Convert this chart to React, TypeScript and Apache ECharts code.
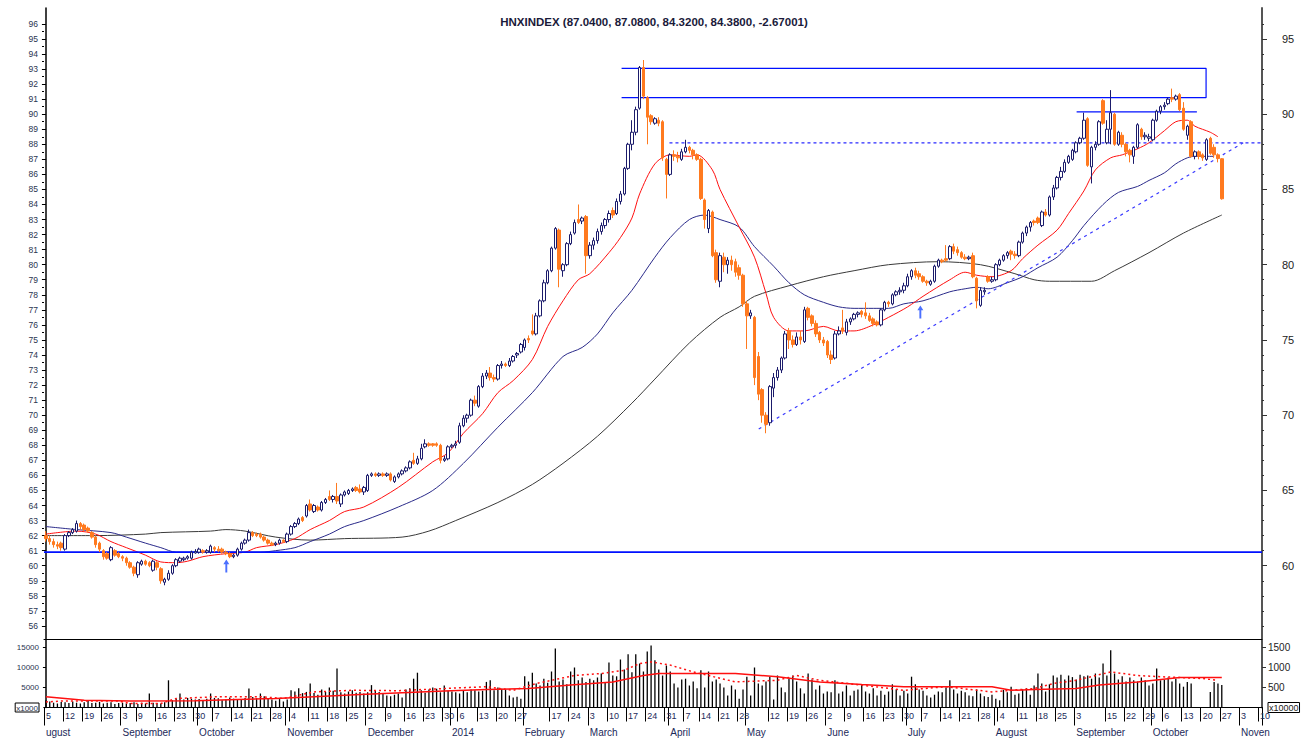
import React, { useEffect, useRef } from "react";
import * as echarts from "echarts";

// ---------- calendar ----------
const START_DAY = "2013-08-05";
const END_DAY = "2014-11-10";
const HOLIDAYS = [
  "2013-09-02", "2014-01-01", "2014-01-29", "2014-01-30", "2014-01-31",
  "2014-02-03", "2014-02-04", "2014-02-05", "2014-04-09", "2014-04-30",
  "2014-05-01", "2014-09-01", "2014-09-02",
];

function buildTradingDays(start: string, end: string): string[] {
  const hs = new Set(HOLIDAYS);
  const out: string[] = [];
  let d = new Date(start + "T00:00:00Z");
  const e = new Date(end + "T00:00:00Z");
  while (d <= e) {
    const wd = d.getUTCDay();
    const s = d.toISOString().slice(0, 10);
    if (wd !== 0 && wd !== 6 && !hs.has(s)) out.push(s);
    d = new Date(d.getTime() + 86400000);
  }
  return out;
}

// ---------- tick labels ----------
const WEEK_LABEL_DAYS = [
  "2013-08-05", "2013-08-12", "2013-08-19", "2013-08-26", "2013-09-03", "2013-09-09",
  "2013-09-16", "2013-09-23", "2013-09-30", "2013-10-07", "2013-10-14", "2013-10-21",
  "2013-10-28", "2013-11-04", "2013-11-11", "2013-11-18", "2013-11-25", "2013-12-02",
  "2013-12-09", "2013-12-16", "2013-12-23", "2013-12-30", "2014-01-06", "2014-01-13",
  "2014-01-20", "2014-01-27", "2014-02-17", "2014-02-24", "2014-03-03", "2014-03-10",
  "2014-03-17", "2014-03-24", "2014-03-31", "2014-04-07", "2014-04-14", "2014-04-21",
  "2014-04-28", "2014-05-12", "2014-05-19", "2014-05-26", "2014-06-02", "2014-06-09",
  "2014-06-16", "2014-06-23", "2014-06-30", "2014-07-07", "2014-07-14", "2014-07-21",
  "2014-07-28", "2014-08-04", "2014-08-11", "2014-08-18", "2014-08-25", "2014-09-03",
  "2014-09-15", "2014-09-22", "2014-09-29", "2014-10-06", "2014-10-13", "2014-10-20",
  "2014-10-27", "2014-11-03", "2014-11-10",
];
const MONTH_START_DAYS = [
  "2013-08-05", "2013-09-03", "2013-10-01", "2013-11-01", "2013-12-02", "2014-01-02",
  "2014-02-06", "2014-03-03", "2014-04-01", "2014-05-02", "2014-06-02", "2014-07-01",
  "2014-08-01", "2014-09-03", "2014-10-01", "2014-11-03",
];
const MONTH_NAMES = [
  "ugust", "September", "October", "November", "December", "2014",
  "February", "March", "April", "May", "June", "July",
  "August", "September", "October", "Noven",
];
const LEFT_PRICE_TICKS = [56,57,58,59,60,61,62,63,64,65,66,67,68,69,70,71,72,73,74,75,76,77,78,79,80,81,82,83,84,85,86,87,88,89,90,91,92,93,94,95,96];
const RIGHT_PRICE_TICKS = [60, 65, 70, 75, 80, 85, 90, 95];
const VOL_TICKS = [0, 5000, 10000, 15000];

// ---------- daily OHLC: [open, close, low, high] ----------
const ohlcAug13 = [
  [62.0,61.8,61.6,62.3],[61.8,61.6,61.4,62.0],[61.6,61.4,61.2,61.8],[61.4,61.3,61.1,61.6],[61.5,61.2,61.0,61.6],
  [61.1,62.0,61.0,62.1],[62.0,62.2,61.9,62.3],[62.2,62.4,62.1,62.5],[62.3,62.8,62.2,63.0],[62.8,62.6,62.4,62.9],
  [62.7,62.4,62.3,62.8],[62.5,62.3,62.2,62.6],[62.2,61.9,61.8,62.3],[61.9,61.4,61.2,62.0],[61.5,61.1,60.9,61.6],
  [61.0,60.6,60.4,61.1],[60.8,60.5,60.4,60.9],[60.4,61.2,60.3,61.3],[61.0,60.7,60.6,61.1],[60.8,60.6,60.5,60.9],
];
const ohlcSep13 = [
  [60.6,60.5,60.3,60.7],[60.5,60.2,60.0,60.6],[60.2,59.9,59.8,60.3],[59.9,59.5,59.3,60.0],[59.4,60.2,59.2,60.3],
  [60.1,60.3,60.0,60.4],[60.3,60.1,60.0,60.4],[60.2,60.0,59.9,60.3],[59.7,60.3,59.6,60.4],[60.2,59.9,59.7,60.3],
  [59.8,59.0,58.8,59.9],[58.9,59.1,58.7,59.2],[59.1,59.5,59.0,59.7],[59.5,60.0,59.4,60.1],[60.0,60.4,59.9,60.5],
  [60.3,60.5,60.2,60.6],[60.4,60.5,60.3,60.6],[60.5,60.6,60.4,60.7],[60.5,60.9,60.4,61.0],[60.85,60.95,60.8,61.1],
];
const ohlcOct13 = [
  [60.9,61.1,60.8,61.2],[61.0,60.9,60.8,61.1],[60.9,61.0,60.8,61.1],[60.9,61.3,60.8,61.4],[61.2,61.1,60.9,61.3],
  [61.1,61.0,60.9,61.3],[61.1,60.9,60.8,61.2],[60.9,60.8,60.7,61.0],[60.8,60.6,60.5,60.9],[60.6,60.7,60.5,60.8],
  [60.7,61.1,60.6,61.2],[61.1,61.5,61.0,61.6],[61.5,61.7,61.4,61.8],[61.7,62.2,61.6,62.4],[62.2,62.0,61.9,62.3],
  [62.1,62.0,61.9,62.2],[62.1,61.9,61.8,62.2],[61.9,61.7,61.6,62.0],[61.7,61.5,61.4,61.8],[61.5,61.4,61.3,61.6],
  [61.4,61.5,61.3,61.6],[61.5,61.7,61.4,61.8],[61.7,61.6,61.5,61.75],
];
const ohlcNov13 = [
  [61.6,62.1,61.5,62.2],[62.1,62.6,62.0,62.7],[62.6,62.8,62.5,62.9],[62.8,63.1,62.7,63.2],[63.2,63.0,62.9,63.3],
  [63.3,64.0,63.2,64.1],[64.1,63.7,63.6,64.4],[63.6,64.0,63.5,64.1],[63.9,63.7,63.6,64.0],[63.7,64.2,63.6,64.3],
  [64.2,64.4,64.1,64.5],[64.6,64.4,64.3,65.0],[64.4,64.6,64.2,64.7],[64.6,64.3,64.1,65.5],[64.1,64.7,63.9,64.8],
  [64.7,64.9,64.6,65.0],[64.8,65.0,64.7,65.1],[65.0,65.1,64.9,65.2],[65.2,65.0,64.9,65.3],[65.1,64.9,64.8,65.4],
  [64.9,65.2,64.7,65.3],
];
const ohlcDec13 = [
  [65.0,66.0,64.9,66.1],[66.0,66.1,65.9,66.2],[66.1,66.0,65.9,66.2],[66.0,66.1,65.9,66.2],[66.1,66.0,65.9,66.2],
  [66.0,66.1,65.9,66.2],[66.1,65.7,65.6,66.2],[65.6,65.9,65.5,66.0],[65.9,66.1,65.8,66.2],[66.1,66.3,66.0,66.4],
  [66.3,66.5,66.2,66.6],[66.5,66.9,66.4,67.0],[67.0,66.8,66.7,67.5],[66.8,67.1,66.7,67.3],[67.1,67.8,67.0,68.1],
  [67.9,68.1,67.8,68.4],[68.1,68.0,67.9,68.2],[68.1,68.0,67.9,68.15],[68.1,68.0,67.9,68.2],[68.0,67.0,66.8,68.1],
  [67.0,67.1,66.9,67.3],[67.1,67.9,67.0,68.0],
];
const ohlcJan14 = [
  [67.9,68.0,67.8,68.1],[68.0,68.1,67.8,68.3],[68.2,69.3,68.1,69.5],[69.3,69.8,69.2,70.0],[69.8,70.0,69.5,70.1],
  [70.0,71.0,69.9,71.1],[71.0,70.8,70.6,71.3],[70.6,71.9,70.5,72.0],[71.9,72.6,71.8,72.8],[72.6,72.8,72.4,73.0],
  [72.8,72.5,72.3,73.2],[72.5,72.4,72.2,72.7],[72.4,73.3,72.3,73.4],[73.3,73.4,73.1,73.6],[73.4,73.3,73.2,73.5],
  [73.3,73.6,73.2,73.8],[73.6,73.9,73.5,74.0],[74.0,74.1,73.8,74.2],[74.2,74.7,74.1,74.8],
];
const ohlcFeb14 = [
  [74.5,75.0,74.3,75.1],[75.1,75.0,74.8,75.3],[75.6,75.4,75.3,76.7],[75.4,76.6,75.3,76.8],[76.6,77.6,76.5,77.7],
  [77.6,78.8,77.5,79.0],[78.8,79.6,78.7,79.7],[79.6,81.1,79.5,81.2],[81.1,82.4,81.0,82.5],[82.3,79.7,78.5,82.4],
  [79.6,80.0,79.2,80.1],[80.0,81.4,79.9,81.5],[81.4,82.0,81.3,82.2],[82.1,82.8,82.0,83.0],[83.0,82.8,82.7,84.0],
  [82.9,83.1,82.7,83.2],[83.2,80.6,79.4,83.3],
];
const ohlcMar14 = [
  [80.6,81.3,80.4,81.5],[81.3,81.6,81.0,81.8],[81.6,82.2,81.4,82.4],[82.2,82.6,82.0,82.8],[82.6,83.0,82.4,83.1],
  [83.0,83.4,82.8,83.6],[83.6,83.3,83.1,83.8],[83.4,84.2,83.3,84.4],[84.2,84.7,84.0,84.9],[84.7,86.4,84.6,86.5],
  [86.4,88.0,86.3,88.1],[88.0,88.8,87.6,89.6],[88.8,90.3,88.6,90.5],[90.4,93.1,90.3,93.2],[93.1,91.2,91.0,93.6],
  [91.1,89.8,88.0,91.2],[89.9,89.5,89.3,90.0],[89.4,89.7,89.3,89.8],[89.6,89.4,89.2,89.8],[89.5,87.1,86.9,89.6],
  [87.0,86.0,84.4,87.1],
];
const ohlcApr14 = [
  [86.0,87.3,85.9,87.4],[87.3,87.2,86.9,87.6],[87.2,87.1,86.8,87.5],[87.0,87.5,86.9,87.7],[87.5,87.8,87.4,88.3],
  [87.8,87.6,87.4,87.9],[87.6,87.3,87.0,87.7],[87.3,87.0,86.9,87.4],[87.0,84.4,84.3,87.1],[84.3,83.0,82.4,84.4],
  [82.4,83.6,82.1,83.7],[83.5,80.6,80.5,83.6],[80.8,79.0,78.8,81.0],[78.9,80.6,78.5,80.8],[80.5,80.0,79.5,80.8],
  [80.0,80.3,79.4,80.5],[80.3,80.0,79.6,80.6],[80.2,79.5,79.2,80.4],[79.8,79.3,79.0,80.0],[79.3,77.4,77.2,79.4],
];
const ohlcMay14 = [
  [77.4,76.6,74.4,77.6],[76.6,76.8,76.4,77.0],[76.5,72.5,72.0,76.6],[73.9,71.4,71.0,74.2],[71.7,70.0,69.5,71.8],
  [70.0,69.4,68.8,70.2],[69.5,71.9,69.3,72.0],[71.8,72.5,71.2,72.8],[72.5,73.0,72.3,73.2],[73.0,73.8,72.8,73.9],
  [73.8,75.4,73.7,75.6],[75.6,75.0,74.4,75.8],[75.0,74.7,74.5,75.3],[74.7,75.2,74.6,75.5],[75.2,75.0,74.7,75.6],
  [74.9,77.0,74.8,77.2],[77.1,76.5,76.3,77.2],[76.6,76.1,75.9,76.7],[76.1,75.4,75.2,76.3],[75.5,75.0,74.8,75.6],
  [75.0,74.8,74.6,75.2],
];
const ohlcJun14 = [
  [74.9,74.0,73.8,75.0],[74.0,73.7,73.4,74.3],[73.8,75.4,73.7,75.6],[75.4,75.6,75.3,75.9],[75.8,75.6,75.4,77.0],
  [75.5,76.2,75.3,76.4],[76.2,76.4,76.0,76.5],[76.4,76.7,76.3,76.8],[76.7,76.8,76.5,76.9],[76.9,76.7,76.5,77.0],
  [76.8,76.6,76.4,77.5],[76.6,76.3,76.2,76.8],[76.4,76.1,75.9,76.5],[76.2,76.0,75.9,76.3],[76.0,77.0,75.9,77.1],
  [77.0,77.5,76.9,77.6],[77.5,77.4,77.2,77.6],[77.4,78.0,77.3,78.1],[78.0,78.2,77.9,78.3],[78.2,78.3,78.0,78.5],
  [78.3,78.6,78.1,78.8],
];
const ohlcJul14 = [
  [78.6,79.2,78.5,79.4],[79.2,79.6,79.0,79.7],[79.6,79.3,79.1,79.8],[79.4,79.2,79.0,79.6],[79.2,78.9,78.8,79.3],
  [78.9,78.8,78.6,79.0],[78.7,78.9,78.6,79.0],[78.9,79.9,78.8,80.0],[79.9,80.3,79.8,80.4],[80.3,80.2,80.1,80.4],
  [80.4,80.3,80.2,81.3],[80.4,81.2,80.3,81.3],[81.2,80.9,80.7,81.4],[81.0,80.8,80.6,81.2],[80.8,80.5,80.4,80.9],
  [80.5,80.4,80.3,80.7],[80.4,80.5,80.3,80.6],[80.6,79.2,79.1,80.8],[79.1,77.6,77.1,79.2],[77.3,78.3,77.2,78.5],
  [78.2,78.3,78.0,78.5],[79.2,78.9,78.8,79.3],[78.9,79.0,78.8,79.2],
];
const ohlcAug14 = [
  [79.0,80.0,78.9,80.1],[80.0,80.3,79.9,80.4],[80.3,80.6,80.2,80.7],[80.6,80.8,80.4,80.9],[80.9,80.7,80.3,81.0],
  [80.7,80.6,80.4,80.9],[80.6,81.5,80.5,81.6],[81.5,82.1,81.4,82.2],[82.1,82.5,81.9,82.6],[82.5,82.8,82.2,82.9],
  [82.9,82.8,82.6,83.0],[83.1,82.8,82.7,83.2],[82.6,83.5,82.5,83.6],[83.5,83.3,83.2,83.7],[83.3,84.5,83.2,84.6],
  [84.5,85.1,84.3,85.3],[85.1,85.8,85.0,85.9],[85.8,86.2,85.6,86.5],[86.2,86.8,86.1,87.0],[86.8,87.2,86.7,87.3],
  [87.0,87.6,86.9,87.7],
];
const ohlcSep14 = [
  [87.5,88.1,87.4,88.2],[88.1,88.4,88.0,88.5],[88.4,89.6,88.3,90.1],[89.7,86.6,86.5,89.8],[86.5,87.8,85.4,87.9],
  [87.8,88.0,87.6,88.2],[88.0,89.5,87.9,89.6],[90.9,89.4,89.3,91.0],[88.1,89.0,88.0,89.6],[89.0,90.1,88.0,91.6],
  [90.0,88.0,87.9,90.1],[88.0,88.8,87.9,88.9],[88.6,88.0,87.8,88.8],[88.0,87.5,87.2,88.1],[87.6,87.3,86.8,87.7],
  [87.2,87.8,86.7,87.9],[87.8,89.3,87.7,89.4],[89.0,88.5,88.3,89.1],[88.5,88.6,88.3,88.8],[88.4,88.5,88.2,88.7],
];
const ohlcOct14 = [
  [88.3,89.6,88.2,89.7],[89.6,90.2,89.5,90.3],[90.2,90.5,90.0,90.6],[90.5,90.6,90.3,90.8],[90.7,91.0,90.6,91.1],
  [91.1,91.0,90.8,91.7],[91.0,91.2,90.9,91.3],[91.3,90.3,90.2,91.4],[90.4,89.0,88.9,90.8],[88.6,89.2,88.3,89.3],
  [89.5,87.2,87.1,89.6],[87.2,87.5,87.0,87.6],[87.5,87.2,87.0,87.6],[87.3,87.1,86.9,87.4],[87.0,88.3,86.9,88.4],
  [88.4,87.4,87.3,88.5],[87.8,87.3,87.1,88.0],[87.3,87.05,86.8,87.4],[87.04,84.38,84.32,87.08],
];

// ---------- daily volume (x1000) ----------
const volAug13 = [1800,1500,1200,1000,1400,1300,1100,1500,1200,1000,1300,1600,1100,1200,1400,1000,1200,1300,900,1100];
const volSep13 = [1200,1000,1100,1300,900,1200,1000,3500,1200,1100,1000,1300,6800,1800,2200,3500,2000,2400,2200,2000];
const volOct13 = [2100,1900,2200,3500,2400,2300,1800,2000,2500,2200,1900,2100,2400,4750,2600,2300,3500,2800,2400,2000,1700,2100,1500];
const volNov13 = [2000,4300,4000,4800,3600,3900,6000,3600,3200,4500,3900,5000,4200,9750,3800,3500,4000,4300,3700,3900,3500];
const volDec13 = [3800,5600,4200,3900,3500,3000,2800,3200,3500,2500,4500,4800,7200,8700,4300,3700,4500,5000,4700,3800,5500,4200];
const volJan14 = [4000,3800,3500,4200,3800,4500,4300,4000,4200,6400,6800,4300,5000,4700,4500,3000,2500,2700,2200];
const volFeb14 = [7800,6500,8700,6000,5500,7200,6200,9000,14750,6500,7000,5800,9000,10000,6800,7500,6400];
const volMar14 = [7200,6800,7500,8500,6200,11250,8000,7800,12000,9500,13300,8800,13300,11000,9000,14000,15500,11800,9500,8000,10500];
const volApr14 = [9000,6000,5000,7000,7200,5500,6500,4800,9300,5000,9000,6500,7000,6000,5000,3000,5500,4500,2200,4500];
const volMay14 = [7700,3000,10000,6000,5500,6500,7700,2000,8000,5000,3800,7200,8000,6500,4800,3500,8500,7000,4500,5500,3500];
const volJun14 = [4000,3800,6800,3500,4000,5500,3000,4200,4500,5800,4000,3500,4800,3000,4200,3200,4000,5800,4500,3000,4200];
const volJul14 = [3500,7700,5800,4500,4200,3000,2500,3200,4000,3800,5000,6800,4500,3500,4200,3800,3000,2800,4500,3500,2800,2600,3200];
const volAug14 = [2200,1800,4400,3800,5200,3200,3500,4500,4800,3200,5500,8500,6000,4000,5800,8000,7500,8200,7000,8000,7600];
const volSep14 = [7000,8200,7800,8000,7200,8500,7500,11000,8000,14300,8500,7000,7800,6500,7500,6800,6500,7500,6800,5500];
const volOct14 = [6000,9750,6800,7000,7500,6500,7200,6000,5200,6400,6000,0,0,0,0,3900,6400,6000,5600];

// ---------- moving averages: [day index, value] ----------
const maRed = [[0,62.1],[8,62.3],[13,62.1],[17,61.6],[21,61.2],[26,60.7],[30,60.25],[34,60.2],[37,60.3],[41,60.6],[47,60.8],[52,60.9],[55,61.2],[60,61.4],[65,61.8],[69,62.4],[74,63.0],[78,63.6],[83,63.9],[92,65.2],[101,66.9],[105,67.5],[109,68.8],[114,70.1],[118,71.5],[122,72.3],[127,73.7],[131,75.9],[135,77.6],[139,79.0],[142,79.4],[147,80.8],[150,81.8],[153,83.1],[155,84.7],[159,86.7],[163,87.3],[168,87.2],[170,87.3],[174,86.3],[176,85.0],[181,82.5],[185,80.5],[188,78.1],[190,76.5],[194,75.6],[198,75.6],[203,75.9],[207,75.6],[211,75.6],[216,76.0],[220,76.5],[225,77.2],[229,77.9],[236,79.0],[240,79.5],[243,79.3],[247,79.2],[252,79.6],[255,80.4],[259,81.3],[264,82.3],[267,83.4],[271,84.9],[274,86.3],[278,87.1],[281,87.3],[285,87.7],[288,88.1],[292,88.9],[295,89.5],[298,89.6],[300,89.2],[304,88.8],[306,88.5]];
const maBlue = [[0,62.6],[8,62.4],[17,62.2],[21,61.9],[26,61.5],[30,61.2],[34,60.9],[43,60.9],[56,60.9],[60,61.0],[65,61.2],[69,61.6],[74,62.1],[78,62.6],[83,63.0],[92,63.9],[101,65.0],[109,66.8],[118,69.2],[127,71.5],[135,73.9],[140,74.5],[144,75.4],[148,76.8],[153,78.3],[159,80.5],[163,81.8],[168,83.0],[172,83.3],[176,83.0],[181,82.5],[185,81.2],[190,79.9],[194,78.8],[198,78.0],[203,77.5],[207,77.2],[211,77.1],[216,77.1],[220,77.1],[224,77.4],[229,77.6],[236,78.2],[240,78.4],[243,78.5],[246,78.4],[251,78.8],[255,79.2],[259,79.8],[264,80.5],[268,81.6],[271,82.6],[276,84.0],[280,84.8],[285,85.2],[288,85.6],[292,86.1],[295,86.7],[298,87.1],[300,87.2],[305,87.2]];
const maBlack = [[0,62.0],[13,62.0],[26,62.1],[30,62.2],[43,62.3],[47,62.4],[52,62.3],[60,61.9],[69,61.7],[78,61.8],[93,61.9],[100,62.3],[107,63.0],[118,64.2],[127,65.4],[135,66.8],[144,68.6],[153,70.8],[159,72.4],[168,74.8],[176,76.5],[181,77.2],[185,77.9],[194,78.6],[203,79.2],[211,79.6],[220,80.0],[233,80.2],[244,80.0],[253,79.4],[258,79.0],[262,78.9],[273,78.9],[279,79.6],[288,80.8],[297,82.1],[307,83.3]];
const volMaSolid = [[0,2700],[10,1800],[22,1600],[39,1700],[50,2000],[60,2250],[70,2700],[82,3250],[93,3700],[104,4100],[115,4500],[126,4750],[137,5600],[148,6400],[156,8000],[160,8500],[180,8500],[191,7700],[202,6400],[213,5750],[224,5200],[247,5200],[252,4300],[258,4500],[269,4750],[275,5600],[285,6400],[296,7500],[307,7500]];
const volMaDotted = [[0,1400],[4,1600],[19,1600],[22,1000],[30,1000],[34,2250],[45,2700],[56,2700],[62,2250],[70,3900],[80,4300],[92,4200],[104,4750],[115,5200],[122,4300],[128,6000],[138,8000],[145,8500],[151,9300],[155,11000],[158,11400],[163,10600],[169,8900],[180,6400],[191,6800],[196,8000],[202,6800],[213,5600],[224,4300],[235,5200],[247,3900],[258,4750],[263,6000],[269,6800],[278,8900],[285,8000],[291,7700],[302,7250],[306,6800]];

// ---------- drawn annotations ----------
const supportLine = [[-0.5, 60.9], [317.5, 60.9]];
const topBox = [[150.3, 93.05], [302.9, 93.05], [302.9, 91.1], [150.3, 91.1]];
const resistanceShort = [[269.1, 90.15], [300.5, 90.15]];
const dottedLevel = [[162.8, 88.1], [317.5, 88.1]];
const trendLine = [[186.1, 69.08], [312.6, 88.1]];
const arrows = [[47.1, 59.98], [228.3, 76.85]];

const TITLE = "HNXINDEX (87.0400, 87.0800, 84.3200, 84.3800, -2.67001)";

const PRICE_MIN = 55.13;
const PRICE_MAX = 97.056;
const VOL_MAX = 16875;

const NAVY = "#1b1b6b";
const ORANGE = "#ff7a1f";

export default function App() {
  const ref = useRef<HTMLDivElement>(null);
  useEffect(() => {
    document.body.style.margin = "0";
    if (!ref.current) return;
    const chart = echarts.init(ref.current, undefined, { renderer: "svg" });
    const days = buildTradingDays(START_DAY, END_DAY);
    const nCat = days.length;
    const ohlc = [
      ...ohlcAug13, ...ohlcSep13, ...ohlcOct13, ...ohlcNov13, ...ohlcDec13, ...ohlcJan14,
      ...ohlcFeb14, ...ohlcMar14, ...ohlcApr14, ...ohlcMay14, ...ohlcJun14, ...ohlcJul14,
      ...ohlcAug14, ...ohlcSep14, ...ohlcOct14,
    ];
    const vol = [
      ...volAug13, ...volSep13, ...volOct13, ...volNov13, ...volDec13, ...volJan14,
      ...volFeb14, ...volMar14, ...volApr14, ...volMay14, ...volJun14, ...volJul14,
      ...volAug14, ...volSep14, ...volOct14,
    ];
    const weekSet = new Set(WEEK_LABEL_DAYS);
    const monthMap: Record<string, string> = {};
    MONTH_START_DAYS.forEach((d, i) => (monthMap[d] = MONTH_NAMES[i]));
    const monthSet = new Set(MONTH_START_DAYS);
    const halfTicks = LEFT_PRICE_TICKS.slice(0, -1).map((v) => v + 0.5);
    const minorRight: number[] = [];
    for (let v = 56; v <= 96; v++) if (v % 5 !== 0) minorRight.push(v);

    const gridLeft = 44;
    const gridWidth = 1218;
    const font = "Liberation Sans, Arial, sans-serif";
    const valX = { type: "value", min: -0.5, max: nCat - 0.5, show: false };

    const lineSeries = (name: string, data: number[][], color: string, width: number, type: any, xi: number, yi: number, z: number, smooth: any = false) => ({
      name, type: "line", data, xAxisIndex: xi, yAxisIndex: yi, symbol: "none", smooth,
      lineStyle: { color, width, type }, z, silent: true,
    });

    const option: any = {
      animation: false,
      backgroundColor: "#ffffff",
      title: {
        text: TITLE, left: "center", top: 11,
        textStyle: { fontSize: 11.5, fontWeight: "bold", color: "#1a1a3a", fontFamily: "Liberation Sans Narrow, Liberation Sans, Arial" },
      },
      grid: [
        { left: gridLeft, top: 8, width: gridWidth, height: 631 },
        { left: gridLeft, top: 640, width: gridWidth, height: 67.5 },
      ],
      xAxis: [
        { type: "category", gridIndex: 0, data: days, boundaryGap: true,
          axisLine: { show: true, lineStyle: { color: "#000", width: 1 } },
          axisTick: { show: false }, axisLabel: { show: false }, splitLine: { show: false } },
        { ...valX, gridIndex: 0 },
        { type: "category", gridIndex: 1, data: days, boundaryGap: true, position: "bottom",
          axisLine: { show: true, lineStyle: { color: "#000", width: 1 } },
          axisTick: { show: true, length: 14, interval: (i: number, v: string) => weekSet.has(v), lineStyle: { color: "#000" } },
          axisLabel: { show: true, interval: (i: number, v: string) => weekSet.has(v), align: "left", margin: 4,
            formatter: (v: string) => String(Number(v.slice(8, 10))), fontSize: 9, color: "#1c2a5a", fontFamily: font } },
        { type: "category", gridIndex: 1, data: days, boundaryGap: true, position: "bottom", offset: 16,
          axisLine: { show: true, lineStyle: { color: "#000", width: 1 } },
          axisTick: { show: true, length: 18, interval: (i: number, v: string) => monthSet.has(v), lineStyle: { color: "#000" } },
          axisLabel: { show: true, interval: (i: number, v: string) => monthSet.has(v), align: "left", margin: 4,
            formatter: (v: string) => monthMap[v] || "", fontSize: 10, color: "#1c2a5a", fontFamily: font } },
        { type: "category", gridIndex: 1, data: days, boundaryGap: true, position: "bottom",
          axisLine: { show: false },
          axisTick: { show: true, length: 16, interval: (i: number, v: string) => monthSet.has(v), lineStyle: { color: "#000" } },
          axisLabel: { show: false } },
        { ...valX, gridIndex: 1 },
      ],
      yAxis: [
        { type: "value", gridIndex: 0, position: "left", min: PRICE_MIN, max: PRICE_MAX,
          axisLine: { show: true, lineStyle: { color: "#000", width: 1.5 } },
          axisTick: { show: true, length: 4, customValues: LEFT_PRICE_TICKS, lineStyle: { color: "#000" } },
          axisLabel: { show: true, customValues: LEFT_PRICE_TICKS, fontSize: 8.5, margin: 6, color: "#2a3450", fontFamily: font },
          splitLine: { show: false } },
        { type: "value", gridIndex: 0, position: "left", min: PRICE_MIN, max: PRICE_MAX,
          axisLine: { show: false },
          axisTick: { show: true, length: 2, customValues: halfTicks, lineStyle: { color: "#000" } },
          axisLabel: { show: false }, splitLine: { show: false } },
        { type: "value", gridIndex: 0, position: "right", min: PRICE_MIN, max: PRICE_MAX,
          axisLine: { show: true, lineStyle: { color: "#555", width: 2 } },
          axisTick: { show: true, length: 5, customValues: RIGHT_PRICE_TICKS, lineStyle: { color: "#333" } },
          axisLabel: { show: true, customValues: RIGHT_PRICE_TICKS, fontSize: 11, margin: 20, color: "#222", fontFamily: font },
          splitLine: { show: false } },
        { type: "value", gridIndex: 0, position: "right", min: PRICE_MIN, max: PRICE_MAX,
          axisLine: { show: false },
          axisTick: { show: true, length: 2, customValues: minorRight, lineStyle: { color: "#333" } },
          axisLabel: { show: false }, splitLine: { show: false } },
        { type: "value", gridIndex: 1, position: "left", min: 0, max: VOL_MAX,
          axisLine: { show: true, lineStyle: { color: "#000", width: 1.5 } },
          axisTick: { show: true, length: 3, customValues: VOL_TICKS.slice(1), lineStyle: { color: "#000" } },
          axisLabel: { show: true, customValues: VOL_TICKS, margin: 5, fontSize: 8, color: "#2a3450", fontFamily: font,
            formatter: (v: number) => (v === 0 ? "{box|x1000}" : String(v)),
            rich: { box: { fontSize: 8, borderColor: "#000", borderWidth: 1, padding: [1, 1, 0, 1], color: "#2a3450" } } },
          splitLine: { show: false } },
        { type: "value", gridIndex: 1, position: "right", min: 0, max: VOL_MAX,
          axisLine: { show: true, lineStyle: { color: "#555", width: 2 } },
          axisTick: { show: true, length: 4, customValues: VOL_TICKS.slice(1), lineStyle: { color: "#333" } },
          axisLabel: { show: true, customValues: VOL_TICKS, margin: 6, fontSize: 10, color: "#222", fontFamily: font,
            formatter: (v: number) => (v === 0 ? "{box|x10000}" : String(v / 10)),
            rich: { box: { fontSize: 9, borderColor: "#000", borderWidth: 1, padding: [1, 1, 0, 1], color: "#222" } } },
          splitLine: { show: false } },
      ],
      series: [
        lineSeries("MA black", maBlack, "#3a3a3a", 1, "solid", 1, 0, 2, 0.3),
        lineSeries("MA blue", maBlue, "#2a2a8a", 1, "solid", 1, 0, 2, 0.3),
        lineSeries("MA red", maRed, "#ff1010", 1, "solid", 1, 0, 2, 0.3),
        lineSeries("support", supportLine, "#0010ff", 1.6, "solid", 1, 0, 3),
        lineSeries("box", topBox, "#0010ff", 1.2, "solid", 1, 0, 3),
        lineSeries("resistance", resistanceShort, "#0010ff", 1.2, "solid", 1, 0, 3),
        lineSeries("level", dottedLevel, "#2a2aff", 1.2, [3, 3], 1, 0, 3),
        lineSeries("trend", trendLine, "#3a3aff", 1.2, [3, 4], 1, 0, 3),
        {
          name: "HNXINDEX", type: "candlestick", xAxisIndex: 0, yAxisIndex: 0, data: ohlc,
          barWidth: 3, z: 5, silent: true,
          itemStyle: { color: "#ffffff", color0: ORANGE, borderColor: NAVY, borderColor0: ORANGE, borderWidth: 1 },
        },
        {
          name: "arrows", type: "scatter", xAxisIndex: 1, yAxisIndex: 0, data: arrows, z: 6, silent: true,
          symbol: "path://M5 0 L10 5 L6.6 5 L6.6 14 L3.4 14 L3.4 5 L0 5 Z", symbolSize: [6, 13],
          itemStyle: { color: "#1e4cff" },
        },
        {
          name: "Volume", type: "bar", xAxisIndex: 2, yAxisIndex: 4, data: vol, barWidth: 1.3, silent: true,
          itemStyle: { color: "#000" }, z: 2,
        },
        lineSeries("Vol MA", volMaSolid, "#ff1010", 1.5, "solid", 5, 4, 3),
        lineSeries("Vol MA2", volMaDotted, "#ff1010", 1.5, [2, 3], 5, 4, 3),
      ],
    };
    chart.setOption(option);
    return () => chart.dispose();
  }, []);
  return <div ref={ref} style={{ width: 1308, height: 740 }} />;
}
